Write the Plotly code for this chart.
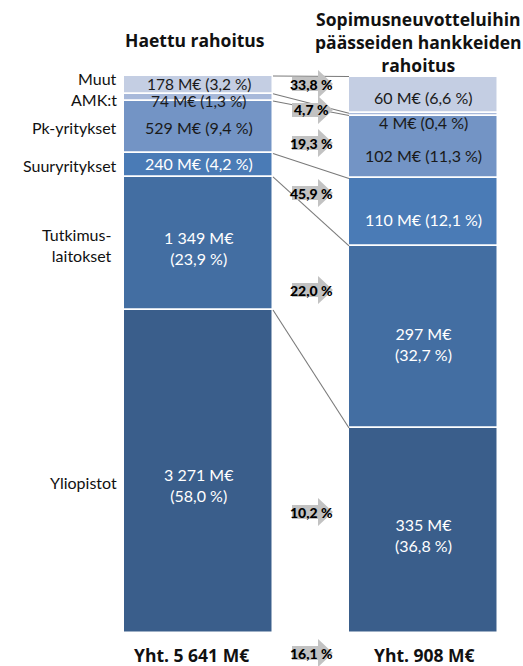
import plotly.graph_objects as go

# ---- data -------------------------------------------------------------
categories = ["Muut", "AMK:t", "Pk-yritykset", "Suuryritykset",
              "Tutkimus-<br>laitokset", "Yliopistot"]
applied_meur = [178, 74, 529, 240, 1349, 3271]
applied_pct = [3.2, 1.3, 9.4, 4.2, 23.9, 58.0]
granted_meur = [60, 4, 102, 110, 297, 335]
granted_pct = [6.6, 0.4, 11.3, 12.1, 32.7, 36.8]
success_pct = [33.8, 4.7, 19.3, 45.9, 22.0, 10.2]
total_applied = 5641
total_granted = 908
total_success = 16.1

bar_titles = ["Haettu rahoitus",
              "Sopimusneuvotteluihin<br>päässeiden hankkeiden<br>rahoitus"]

# ---- styling ------------------------------------------------------------
colors = ["#C4CEE3", "#A8B9DA", "#7394C5", "#4A7BB6", "#436EA2", "#3A5E8B"]
label_dark = [True, True, True, False, False, False]
FONT = "Lato"
BOLD_FONT = "Open Sans"
W, H = 523, 666
TOP_PX, BOT_PX = 76, 633          # pixel rows of the 100 % and 0 % levels
px_per_unit = (BOT_PX - TOP_PX) / 100.0

X_LEFT, X_RIGHT, BAR_W = 198.5, 423.5, 149


def fmt_num(v):
    return f"{v:,}".replace(",", " ")


def fmt_pct(p):
    return f"{p:.1f}".replace(".", ",")


def paper_y(px):
    return 1 - px / H


def stack(pcts):
    """Bases of the segments, stacked from the bottom (last category)."""
    bases = [0.0] * len(pcts)
    acc = 0.0
    for i in range(len(pcts) - 1, -1, -1):
        bases[i] = acc
        acc += pcts[i]
    return bases


left_base = stack(applied_pct)
right_base = stack(granted_pct)

fig = go.Figure()

# connector lines joining the upper edge of each segment across the bars
x_edge_l = X_LEFT + BAR_W / 2
x_edge_r = X_RIGHT - BAR_W / 2
for i in range(len(categories)):
    top_l = left_base[i] + applied_pct[i]
    top_r = right_base[i] + granted_pct[i]
    fig.add_trace(go.Scatter(x=[x_edge_l, x_edge_r], y=[top_l, top_r],
                             mode="lines", line=dict(color="#7a7a7a", width=1.1),
                             hoverinfo="skip", showlegend=False))

# stacked segments
for i, cat in enumerate(categories):
    fig.add_trace(go.Bar(
        x=[X_LEFT, X_RIGHT], y=[applied_pct[i], granted_pct[i]],
        base=[left_base[i], right_base[i]], width=BAR_W,
        marker=dict(color=colors[i], line=dict(color="white", width=1.5)),
        hoverinfo="skip", showlegend=False))

annotations = []

# segment value labels
left_shift = [1, -4, 0, 2, -5, -14]
right_shift = [-3, -8, -8, -7, -7, -4]
left_size = [15.5, 15.5, 16, 16, 16, 16]
two_line = [False, False, False, False, True, True]
for i in range(len(categories)):
    col = "#1a1a1a" if label_dark[i] else "white"
    for xc, meur, pct, base, sh, fs in (
            (X_LEFT, applied_meur[i], applied_pct[i], left_base[i], left_shift[i], left_size[i]),
            (X_RIGHT, granted_meur[i], granted_pct[i], right_base[i], right_shift[i], 16)):
        sep = "<br>" if two_line[i] else " "
        annotations.append(dict(
            x=xc, y=base + pct / 2, xref="x", yref="y",
            text=f"{fmt_num(meur)} M€{sep}({fmt_pct(pct)} %)",
            showarrow=False, yshift=sh, font=dict(family=FONT, size=fs, color=col),
            xanchor="center", yanchor="middle"))

# category names on the left
cat_shift = [6, -2, 0, 0, -2, -11]
cat_xshift = [0, 0, 0, 0, -5, 0]
for i, cat in enumerate(categories):
    annotations.append(dict(
        x=119, y=left_base[i] + applied_pct[i] / 2, xref="x", yref="y",
        text=cat, showarrow=False, yshift=cat_shift[i], xshift=cat_xshift[i],
        xanchor="right", yanchor="middle", align="right",
        font=dict(family=FONT, size=16, color="#111")))

# titles and totals
title_font = dict(family=BOLD_FONT, size=17.5, color="#111", weight="bold")
annotations += [
    dict(x=195, y=paper_y(40), xref="x", yref="paper", text=bar_titles[0],
         showarrow=False, font=title_font, xanchor="center", yanchor="middle"),
    dict(x=418, y=paper_y(42), xref="x", yref="paper", text=bar_titles[1],
         showarrow=False, font=title_font, xanchor="center", yanchor="middle"),
    dict(x=191, y=paper_y(655), xref="x", yref="paper",
         text=f"Yht. {fmt_num(total_applied)} M€",
         showarrow=False, font=title_font, xanchor="center", yanchor="middle"),
    dict(x=424, y=paper_y(655), xref="x", yref="paper",
         text=f"Yht. {fmt_num(total_granted)} M€",
         showarrow=False, font=title_font, xanchor="center", yanchor="middle"),
]

# grey block arrows carrying the success rates
arrow_rows = [84, 110, 143, 193, 290, 512, 653]
arrow_vals = success_pct + [total_success]
shapes = []
for row, val in zip(arrow_rows, arrow_vals):
    y0, yb0, yb1, y1, yc = (paper_y(row + 14), paper_y(row + 7), paper_y(row - 7),
                            paper_y(row - 14), paper_y(row))
    path = (f"M 292,{yb0} L 318,{yb0} L 318,{y0} L 333,{yc} "
            f"L 318,{y1} L 318,{yb1} L 292,{yb1} Z")
    shapes.append(dict(type="path", path=path, xref="x", yref="paper",
                       fillcolor="#C2C2C2", line=dict(width=0), layer="above"))
    annotations.append(dict(x=311, y=yc, xref="x", yref="paper",
                            text=f"{fmt_pct(val)} %", showarrow=False,
                            font=dict(family=FONT, size=14, color="#000", weight=900),
                            xanchor="center", yanchor="middle"))

y_lo = -(H - BOT_PX) / px_per_unit
y_hi = 100 + TOP_PX / px_per_unit

fig.update_layout(
    width=W, height=H, autosize=False,
    margin=dict(l=0, r=0, t=0, b=0, pad=0),
    paper_bgcolor="white", plot_bgcolor="white",
    barmode="overlay", bargap=0,
    xaxis=dict(range=[0, W], visible=False, fixedrange=True),
    yaxis=dict(range=[y_lo, y_hi], visible=False, fixedrange=True),
    annotations=annotations, shapes=shapes,
    font=dict(family=FONT),
)

fig.write_html("out.html", config={"displayModeBar": False})
